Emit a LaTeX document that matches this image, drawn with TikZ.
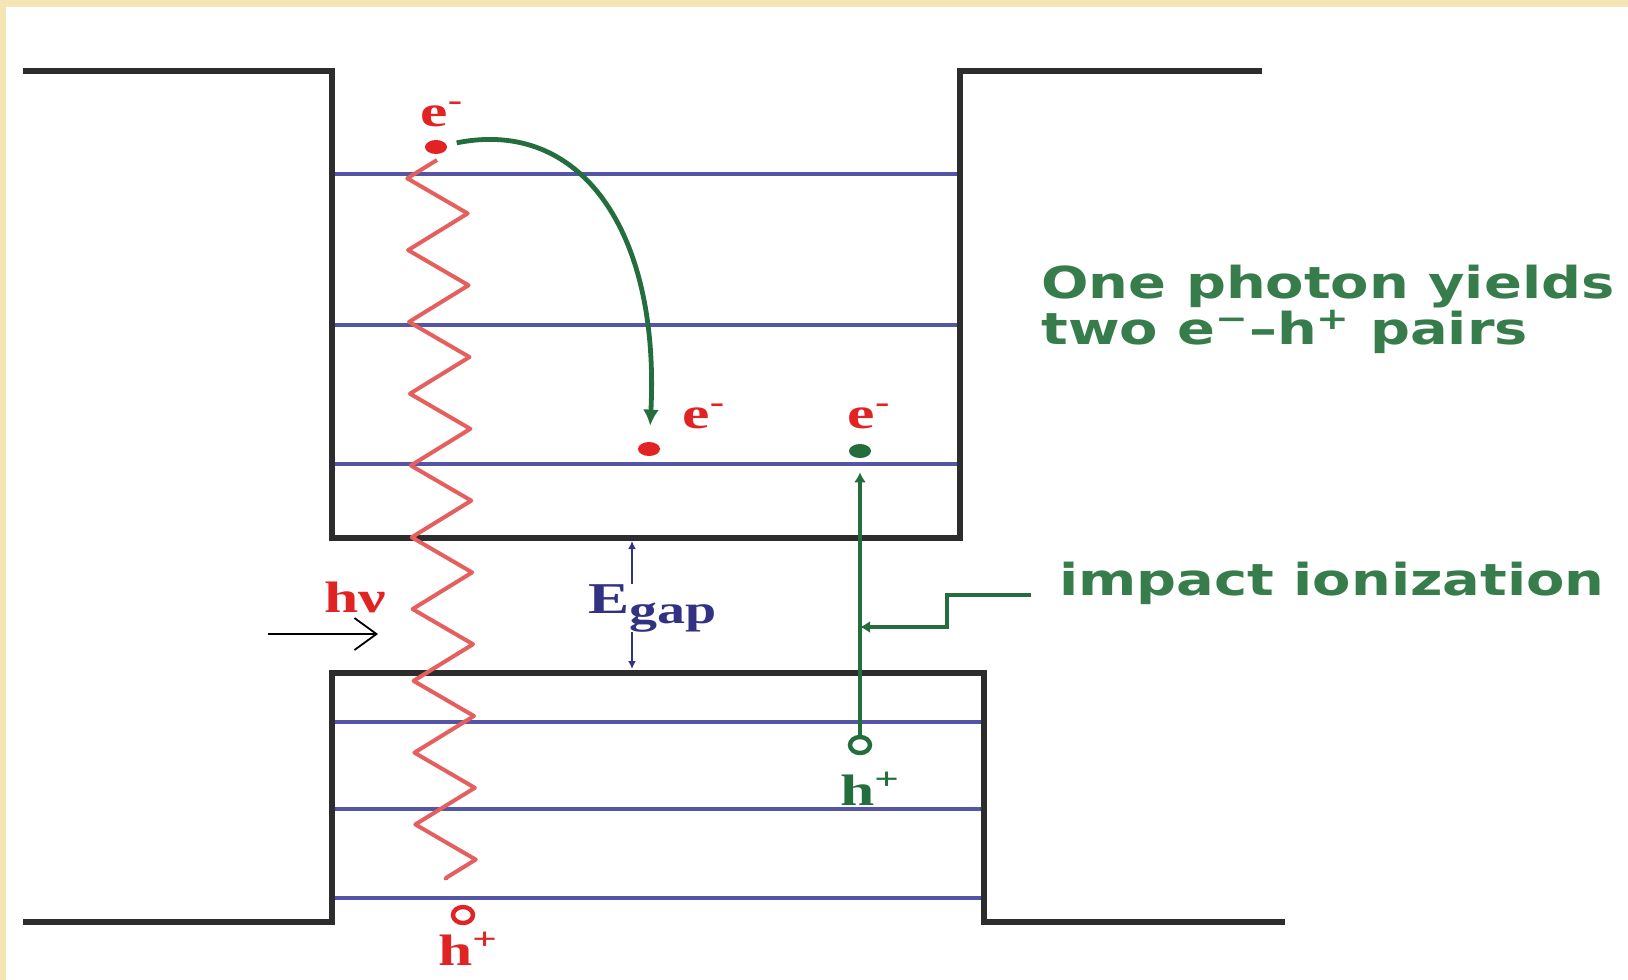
\documentclass[tikz,border=0pt]{standalone}
\usepackage{fontspec}
\usepackage{xcolor}
\usepackage{tikz}
\usetikzlibrary{arrows.meta,positioning,calc,shapes.geometric,decorations.pathmorphing}

\newfontfamily\notefont[FakeStretch=1.27]{DejaVu Sans}
\newfontfamily\carrierfont[FakeStretch=1.4]{Liberation Serif}

\definecolor{framebeige}{RGB}{245,228,180}
\definecolor{bandgray}{RGB}{45,45,45}
\definecolor{levelblue}{RGB}{85,85,165}
\definecolor{elecred}{RGB}{225,35,35}
\definecolor{wavered}{RGB}{230,95,95}
\definecolor{pairgreen}{RGB}{35,110,60}
\definecolor{notegreen}{RGB}{55,125,75}
\definecolor{gapblue}{RGB}{50,50,130}

\begin{document}
\begin{tikzpicture}[x=0.5pt, y=-0.5pt,
    band/.style={draw=bandgray, line width=2.6pt},
    level/.style={draw=levelblue, line width=1.7pt},
    dot/.style={ellipse, inner sep=0, minimum width=11pt, minimum height=7pt},
    hole/.style={ellipse, line width=2.2pt, inner sep=0, minimum width=10pt, minimum height=8pt},
    carrier/.style={font=\carrierfont\bfseries\fontsize{22}{22}\selectfont, text=elecred, inner sep=0, anchor=base},
    note/.style={font=\notefont\bfseries\fontsize{22}{19}\selectfont, text=notegreen, inner sep=0},
    photon/.style={draw=wavered, line width=2pt, line join=round, decorate,
        decoration={zigzag, segment length=35.9pt, amplitude=15pt, mirror}},
    jump/.style={draw=pairgreen, line width=2.4pt, -{Latex[length=8pt,width=8pt]}},
    pair/.style={draw=pairgreen, line width=1.6pt, -{Latex[length=5pt,width=6pt]}},
    gaparr/.style={draw=gapblue, line width=1pt, -{Latex[length=4pt,width=4pt]}},
    incident/.style={draw=black, line width=0.9pt, -{Straight Barb[length=11pt,width=16pt]}}
]
% slide frame
\fill[framebeige] (0,0) rectangle (1628,980);
\fill[white] (6,7) rectangle (1628,980);
\useasboundingbox (0,0) rectangle (1628,980);

% energy levels
\foreach \y in {174,325,464} \draw[level] (332,\y) -- (960,\y);
\foreach \y in {722,809,898} \draw[level] (332,\y) -- (984,\y);

% band edges
\draw[band] (23,71) -- (332,71) -- (332,538) -- (960,538) -- (960,71) -- (1262,71);
\draw[band] (23,922) -- (332,922) -- (332,673) -- (984,673) -- (984,922) -- (1285,922);

% photon
\coordinate (wtop) at (437,160);
\coordinate (wbot) at (446,880);
\draw[photon] (wtop) -- (wbot);
\node[carrier] (hnu) at (355,612) {hν};
\coordinate (lamp) at (268,634);
\coordinate (aim) at (378,634);
\draw[incident] (lamp) -- (aim);

% carriers
\node[dot, fill=elecred] (e1) at (436,147) {};
\node[carrier] (e1lab) at (442,126) {e\textsuperscript{-}};
\node[dot, fill=elecred] (e2) at (649,449) {};
\node[carrier] (e2lab) at (704,428) {e\textsuperscript{-}};
\node[dot, fill=pairgreen] (e3) at (860,451) {};
\node[carrier] (e3lab) at (869,428) {e\textsuperscript{-}};
\node[hole, draw=elecred] (h1) at (463,915) {};
\node[carrier] (h1lab) at (468,965) {h\textsuperscript{+}};
\node[hole, draw=pairgreen] (h2) at (860,745) {};
\node[carrier, text=pairgreen] (h2lab) at (870,805) {h\textsuperscript{+}};

% relaxation of the hot electron
\draw[jump, shorten <=5pt, shorten >=8pt] (e1) .. controls (580,118) and (660,230) .. (e2);

% impact ionization pair
\draw[pair, shorten >=7pt] (h2.north) -- (e3.south);

% band gap
\node[font=\carrierfont\bfseries\fontsize{22}{22}\selectfont, text=gapblue, inner sep=0, anchor=base west]
    (egap) at (588,613) {E\raisebox{-5pt}{\fontsize{20}{20}\selectfont gap}};
\coordinate (gtop) at (632,541);
\coordinate (gbot) at (632,669);
\draw[gaparr] (egap.north -| gtop) -- (gtop);
\draw[gaparr] (egap.south -| gbot) -- (gbot);

% notes
\node[note, anchor=north west, align=left] (yield) at (1041,265)
    {One photon yields\\two e\textsuperscript{−}–h\textsuperscript{+} pairs};
\node[note, anchor=base west, inner xsep=14pt, inner ysep=0pt] (ion) at (1031,595) {impact ionization};
\coordinate (knee) at (947,627);
\draw[pair, line width=2pt] (ion.base west) -| (knee) -- (h2 |- knee);
\end{tikzpicture}
\end{document}
